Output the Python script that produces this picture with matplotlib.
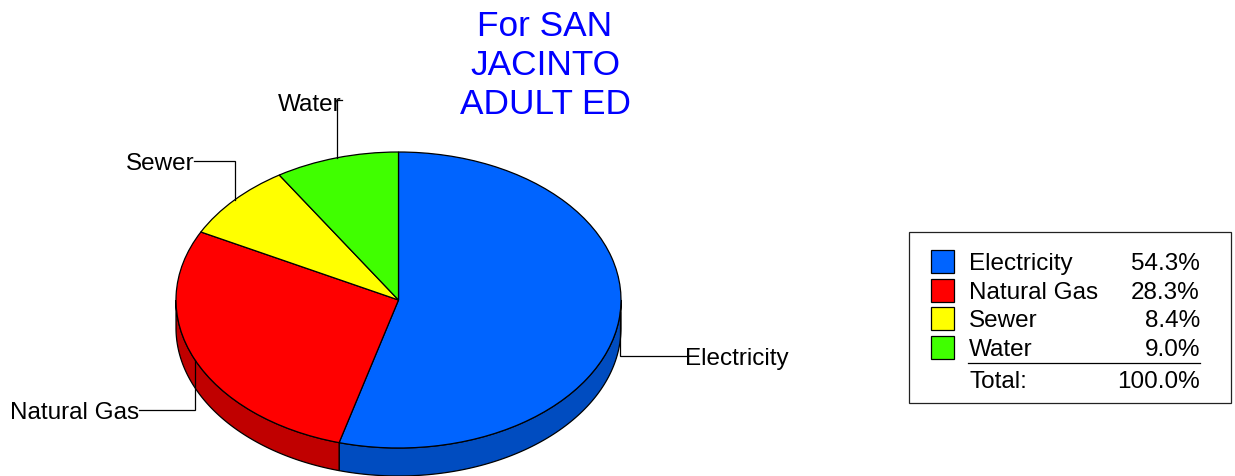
import numpy as np
import matplotlib
matplotlib.use('Agg')
import matplotlib.pyplot as plt
from matplotlib.patches import Rectangle, Polygon

plt.rcParams['font.family'] = ['Liberation Sans', 'DejaVu Sans']

# Data
categories = ['Electricity', 'Natural Gas', 'Sewer', 'Water']
shares = [54.3, 28.3, 8.4, 9.0]
total_label = 'Total:'
title_lines = ['For SAN', 'JACINTO', 'ADULT ED']

colors = ['#0064FF', '#FF0000', '#FFFF00', '#40FF00']
wall_colors = ['#004CC0', '#C00000', '#C0C000', '#30C000']

W, H = 1235, 477
cx, cy, rx, ry, depth = 398.5, 301.0, 222.5, 148.0, 28.0
label_size = 17.5

fig = plt.figure(figsize=(W / 100, H / 100), dpi=100)

# Pie axes: one data unit is the ellipse radius, so pie() draws the flattened top
ax = fig.add_axes([0, 0, 1, 1])
wedges, _ = ax.pie(shares, colors=colors, startangle=90, counterclock=False,
                   wedgeprops={'edgecolor': 'black', 'linewidth': 0.9, 'zorder': 3})
ax.set_aspect('auto')
ax.set_xlim(-cx / rx, (W - cx) / rx)
ax.set_ylim((cy - H) / ry, cy / ry)
ax.axis('off')

# Side wall: only the front half (90..270 deg clockwise from the top) shows
edges = np.cumsum([0] + shares) / sum(shares) * 360
for i in range(len(shares)):
    a0, a1 = max(edges[i], 90), min(edges[i + 1], 270)
    if a0 >= a1:
        continue
    t = np.radians(np.linspace(a0, a1, 100))
    top = np.column_stack([np.sin(t), np.cos(t)])
    bottom = (top - [0, depth / ry])[::-1]
    ax.add_patch(Polygon(np.vstack([top, bottom]), closed=True, facecolor=wall_colors[i],
                         edgecolor='black', linewidth=0.9, zorder=1))

# Overlay in image pixels for labels, leaders and legend
ov = fig.add_axes([0, 0, 1, 1], facecolor='none')
ov.set_xlim(0, W)
ov.set_ylim(H - 1, -1)
ov.axis('off')

# Title
for line, base in zip(title_lines, [35.5, 74.5, 113.5]):
    ov.text(545, base, line, color='#0000FF', fontsize=25.4, ha='center', va='baseline')

# Leader lines
leaders = [([619.5, 619.5, 686], [312, 356, 356]),
           ([195, 195, 139], [360, 410.5, 410.5]),
           ([234.7, 234.7, 194], [200, 161, 161]),
           ([336.7, 336.7, 342], [158, 100, 100])]
for xs, ys in leaders:
    ov.plot(xs, ys, color='black', lw=0.9, solid_joinstyle='miter', zorder=4)

# Slice labels
ov.text(685, 364, categories[0], fontsize=label_size, ha='left', va='baseline')
ov.text(139, 418, categories[1], fontsize=label_size, ha='right', va='baseline')
ov.text(194.5, 169, categories[2], fontsize=label_size, ha='right', va='baseline')
ov.text(342, 110, categories[3], fontsize=label_size, ha='right', va='baseline')

# Legend box
ov.add_patch(Rectangle((909, 232), 322, 171, facecolor='white', edgecolor='#222222', lw=0.9))
swatch_tops = [250, 279, 307, 336]
baselines = [269, 298, 326, 355]
for name, val, col, st, base in zip(categories, shares, colors, swatch_tops, baselines):
    ov.add_patch(Rectangle((931, st), 23, 23, facecolor=col, edgecolor='black', lw=0.9))
    ov.text(969, base, name, fontsize=label_size, ha='left', va='baseline')
    ov.text(1200, base, f'{val:.1f}%', fontsize=label_size, ha='right', va='baseline')
ov.plot([968, 1200], [363, 363], color='black', lw=0.9)
ov.text(969, 387, total_label, fontsize=label_size, ha='left', va='baseline')
ov.text(1200, 387, f'{sum(shares):.1f}%', fontsize=label_size, ha='right', va='baseline')

fig.savefig('out.png', dpi=100, facecolor='white')
